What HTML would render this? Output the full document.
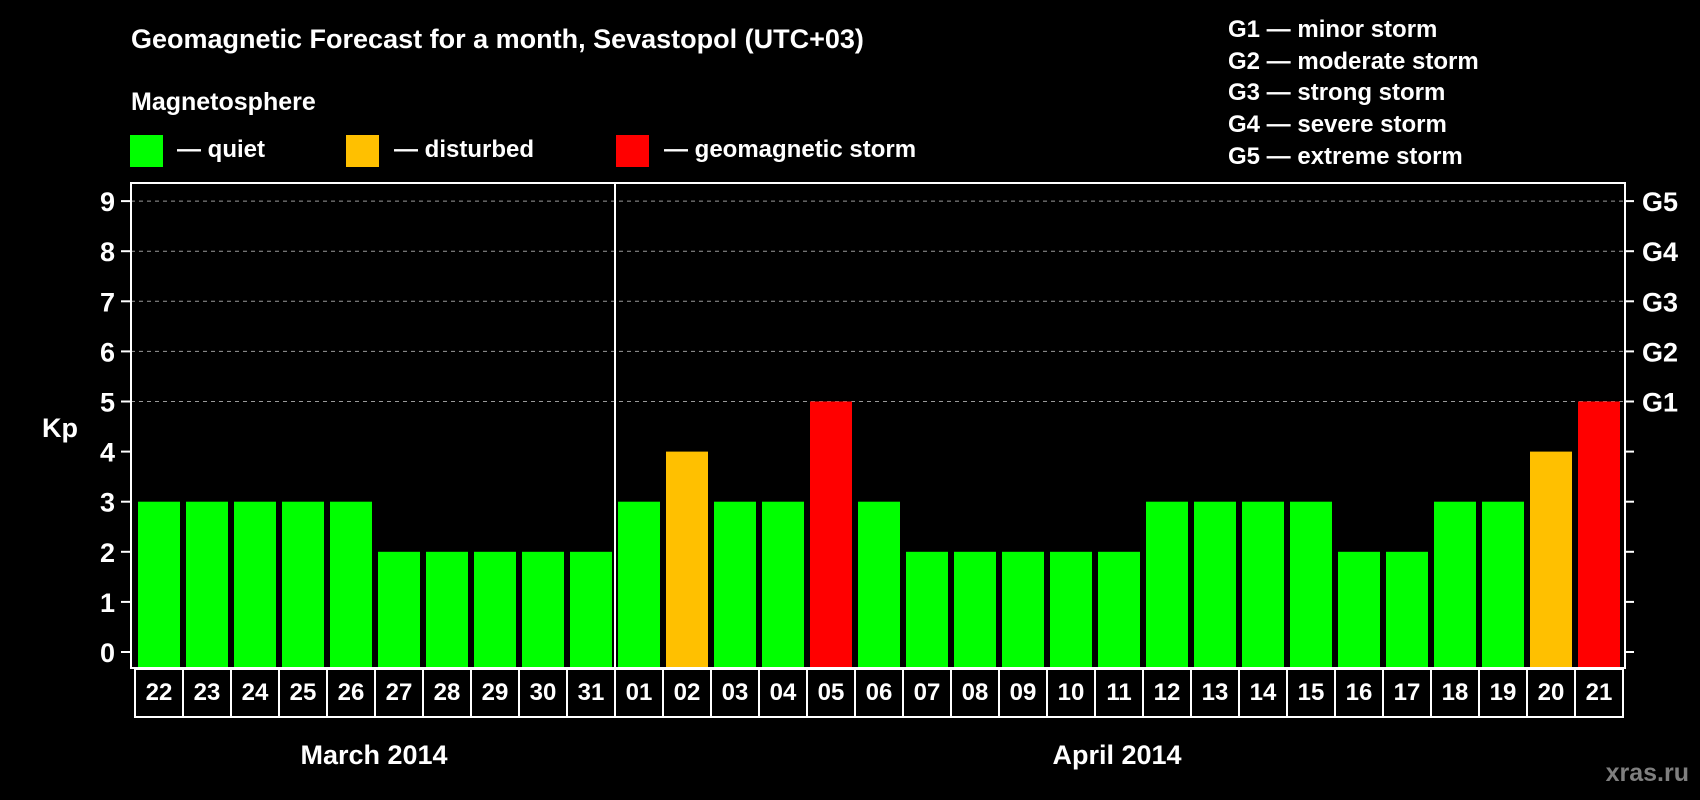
<!DOCTYPE html>
<html><head><meta charset="utf-8"><style>
html,body{margin:0;padding:0;background:#000;}
svg{display:block;font-family:"Liberation Sans",Arial,sans-serif;font-weight:bold;}
</style></head><body>
<svg id="chart" width="1700" height="800" viewBox="0 0 1700 800" xmlns="http://www.w3.org/2000/svg">
<rect x="0" y="0" width="1700" height="800" fill="#000"/>
<text x="131" y="48" fill="#fff" font-size="27">Geomagnetic Forecast for a month, Sevastopol (UTC+03)</text>
<text x="131" y="110" fill="#fff" font-size="25">Magnetosphere</text>
<g>
<rect x="130" y="135" width="33" height="32" fill="#00ff00"/>
<text x="177" y="157" fill="#fff" font-size="24">— quiet</text></g>
<g>
<rect x="346" y="135" width="33" height="32" fill="#ffc000"/>
<text x="394" y="157" fill="#fff" font-size="24">— disturbed</text></g>
<g>
<rect x="616" y="135" width="33" height="32" fill="#ff0000"/>
<text x="664" y="157" fill="#fff" font-size="24">— geomagnetic storm</text></g>
<g fill="#fff" font-size="24">
<text x="1228" y="37">G1 — minor storm</text>
<text x="1228" y="69">G2 — moderate storm</text>
<text x="1228" y="100">G3 — strong storm</text>
<text x="1228" y="132">G4 — severe storm</text>
<text x="1228" y="164">G5 — extreme storm</text>
</g>
<text x="42" y="437" fill="#fff" font-size="27">Kp</text>
<g id="grid"></g>
<g id="bars"></g>
<g id="axes"></g>
<text x="374" y="764" fill="#fff" font-size="27" text-anchor="middle">March 2014</text>
<text x="1117" y="764" fill="#fff" font-size="27" text-anchor="middle">April 2014</text>
<text x="1689" y="781" fill="#7f7f7f" font-size="25" text-anchor="end">xras.ru</text>
</svg>
<script>
const days = ["22","23","24","25","26","27","28","29","30","31","01","02","03","04","05","06","07","08","09","10","11","12","13","14","15","16","17","18","19","20","21"];
const kpValues = [3,3,3,3,3,2,2,2,2,2,3,4,3,3,5,3,2,2,2,2,2,3,3,3,3,2,2,3,3,4,5];
const yTicks = [0,1,2,3,4,5,6,7,8,9];
const gLabels = ["G1","G2","G3","G4","G5"];
const gLevels = [5,6,7,8,9];

const NS = "http://www.w3.org/2000/svg";
const plotL = 131, plotR = 1625, plotT = 183, plotB = 668;
const y0 = 652, unit = 50.1;
const firstX = 138, pitch = 48, barW = 42;
function yScale(v){ return y0 - v*unit; }
function xScale(i){ return firstX + i*pitch; }
function mk(tag, attrs, parent){ const e=document.createElementNS(NS,tag); for(const k in attrs) e.setAttribute(k,attrs[k]); parent.appendChild(e); return e; }
function colorFor(v){ return v>=5 ? "#ff0000" : (v>=4 ? "#ffc000" : "#00ff00"); }

const grid = document.getElementById("grid");
gLevels.forEach(v=>{
  const l = mk("line",{x1:plotL,x2:plotR,y1:yScale(v),y2:yScale(v),stroke:"#999","stroke-width":1,"stroke-dasharray":"4,4"},grid);
  
  
});

const bars = document.getElementById("bars");
kpValues.forEach((v,i)=>{
  const top = yScale(v);
  const r = mk("rect",{x:xScale(i),y:top,width:barW,height:plotB-1-top,fill:colorFor(v)},bars);
  
  
});

const axes = document.getElementById("axes");
const frame = mk("rect",{x:plotL,y:plotT,width:plotR-plotL,height:plotB-plotT,fill:"none",stroke:"#fff","stroke-width":2},axes);


const sep = mk("line",{x1:615,x2:615,y1:plotT,y2:plotB,stroke:"#fff","stroke-width":2},axes);



yTicks.forEach(v=>{
  const y = yScale(v);
  mk("line",{x1:plotL-10,x2:plotL,y1:y,y2:y,stroke:"#fff","stroke-width":2},axes);
  mk("line",{x1:plotR,x2:plotR+9,y1:y,y2:y,stroke:"#fff","stroke-width":2},axes);
  const t = mk("text",{x:plotL-16,y:y+10,fill:"#fff","font-size":27,"text-anchor":"end"},axes);
  t.textContent = v;
  
  
});
gLevels.forEach((v,i)=>{
  const t = mk("text",{x:plotR+17,y:yScale(v)+10,fill:"#fff","font-size":27},axes);
  t.textContent = gLabels[i];
  
  
});

const cellTop = 669, cellBot = 717, cellL = 135;
days.forEach((d,i)=>{
  const x = cellL + i*pitch;
  const c = mk("rect",{x:x,y:cellTop,width:pitch,height:cellBot-cellTop,fill:"none",stroke:"#fff","stroke-width":2},axes);
  
  
  const t = mk("text",{x:x+pitch/2,y:700,fill:"#fff","font-size":24,"text-anchor":"middle"},axes);
  t.textContent = d;
  
  
});
</script>
</body></html>
